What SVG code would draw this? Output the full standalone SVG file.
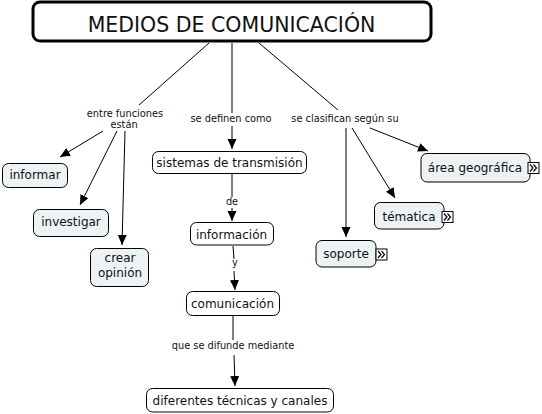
<svg xmlns="http://www.w3.org/2000/svg" width="542" height="414" viewBox="0 0 542 414">
<defs>
<style>
.n{fill:#edf2f5;stroke:#000;stroke-width:1}
.w{fill:#fff;stroke:#000;stroke-width:1}
.t{font-family:"DejaVu Sans","Liberation Sans",sans-serif;font-size:12px;fill:#111;text-anchor:middle}
.l{font-family:"DejaVu Sans","Liberation Sans",sans-serif;font-size:9.8px;fill:#111;text-anchor:middle}
.c{fill:none;stroke:#000;stroke-width:1}
.ic{fill:#fff;stroke:#000;stroke-width:1}
.ch{fill:none;stroke:#000;stroke-width:1.2}
</style>
<marker id="a" markerUnits="userSpaceOnUse" markerWidth="11" markerHeight="10" refX="10" refY="4.5" orient="auto">
<path d="M0,0 L10,4.5 L0,9 z" fill="#000"/>
</marker>
<g id="icon">
<rect class="ic" x="0.5" y="0.5" width="11" height="11"/>
<path class="ch" d="M2.5,2.5 L5.5,6 L2.5,9.5 M6,2.5 L9,6 L6,9.5"/>
</g>
</defs>
<rect width="542" height="414" fill="#fff"/>

<g id="connectors">
<line class="c" x1="209" y1="43" x2="139" y2="105"/>
<line class="c" x1="103" y1="131" x2="60" y2="157" marker-end="url(#a)"/>
<line class="c" x1="117" y1="131" x2="80" y2="205" marker-end="url(#a)"/>
<line class="c" x1="125" y1="131" x2="122" y2="245" marker-end="url(#a)"/>
<line class="c" x1="232" y1="43" x2="232" y2="113"/>
<line class="c" x1="232" y1="126" x2="232" y2="149" marker-end="url(#a)"/>
<line class="c" x1="259" y1="43" x2="338" y2="110"/>
<line class="c" x1="346" y1="128" x2="346" y2="237" marker-end="url(#a)"/>
<line class="c" x1="352" y1="128" x2="395" y2="198" marker-end="url(#a)"/>
<line class="c" x1="370" y1="128" x2="428" y2="151" marker-end="url(#a)"/>
<line class="c" x1="232" y1="174" x2="232" y2="197"/>
<line class="c" x1="232" y1="208" x2="232" y2="221" marker-end="url(#a)"/>
<line class="c" x1="233" y1="246" x2="234" y2="259"/>
<line class="c" x1="234" y1="271" x2="235" y2="290" marker-end="url(#a)"/>
<line class="c" x1="233" y1="316" x2="233" y2="340"/>
<line class="c" x1="234" y1="355" x2="235" y2="386" marker-end="url(#a)"/>
<text class="l" x="125" y="117">entre funciones</text>
<text class="l" x="124" y="128">están</text>
<text class="l" x="231" y="122">se definen como</text>
<text class="l" x="345" y="122">se clasifican según su</text>
<text class="l" x="232" y="205">de</text>
<text class="l" x="235" y="266">y</text>
<text class="l" x="233" y="349">que se difunde mediante</text>
</g>

<g id="title">
<rect x="33" y="2" width="398" height="39" rx="7" fill="#fff" stroke="#000" stroke-width="3"/>
<text x="231.5" y="32" font-family="DejaVu Sans, Liberation Sans, sans-serif" font-size="20.5" fill="#111" text-anchor="middle">MEDIOS DE COMUNICACIÓN</text>
</g>

<g id="informar">
<rect class="n" x="2.5" y="163.5" width="65" height="24" rx="6"/>
<text class="t" x="35" y="179">informar</text>
</g>
<g id="investigar">
<rect class="n" x="33.5" y="209.5" width="75" height="27" rx="6"/>
<text class="t" x="71" y="226">investigar</text>
</g>
<g id="crear_opinion">
<rect class="n" x="90.5" y="248.5" width="58" height="38" rx="6"/>
<text class="t" x="120" y="262">crear</text>
<text class="t" x="120" y="277">opinión</text>
</g>
<g id="sistemas">
<rect class="w" x="152.5" y="151.5" width="154" height="22" rx="6"/>
<text class="t" x="229.5" y="167">sistemas de transmisión</text>
</g>
<g id="informacion">
<rect class="w" x="190.5" y="222.5" width="83" height="22.5" rx="6"/>
<text class="t" x="231.5" y="239">información</text>
</g>
<g id="comunicacion">
<rect class="w" x="186.5" y="291.5" width="93" height="24" rx="6"/>
<text class="t" x="232.5" y="307.5">comunicación</text>
</g>
<g id="diferentes">
<rect class="w" x="146.5" y="388.5" width="187" height="23.5" rx="6"/>
<text class="t" x="240" y="404.5">diferentes técnicas y canales</text>
</g>
<g id="soporte">
<rect class="n" x="316" y="240.5" width="60" height="26.5" rx="6"/>
<text class="t" x="346" y="258">soporte</text>
<use href="#icon" x="375.5" y="248.5"/>
</g>
<g id="tematica">
<rect class="n" x="374.5" y="202.5" width="69.5" height="26.5" rx="6"/>
<text class="t" x="409" y="220.5">tématica</text>
<use href="#icon" x="441.5" y="211"/>
</g>
<g id="area">
<rect class="n" x="421" y="153.5" width="109" height="28.5" rx="6"/>
<text class="t" x="475" y="172">área geográfica</text>
<use href="#icon" x="527.5" y="162"/>
</g>
</svg>
